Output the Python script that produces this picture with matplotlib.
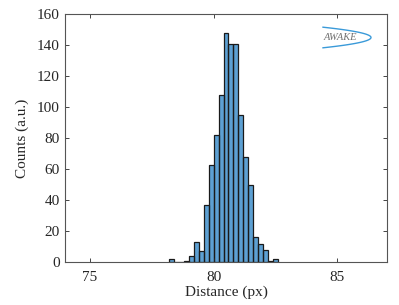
import numpy as np
import matplotlib
matplotlib.use("Agg")
import matplotlib.pyplot as plt

# histogram of measured distances, bin width 0.2 px
bin_start = 78.2
bin_width = 0.2
counts = [2, 0, 0, 1, 4, 13, 7, 37, 63, 82, 108, 148, 141, 141,
          95, 68, 50, 16, 12, 8, 1, 2]
edges = bin_start + bin_width * np.arange(len(counts) + 1)

plt.rcParams["font.family"] = ["Liberation Serif", "DejaVu Serif"]
plt.rcParams["font.size"] = 11

fig = plt.figure(figsize=(3.99, 3.05), dpi=100)
ax = fig.add_axes([0.1637, 0.14, 0.8053, 0.814])

ax.stairs(counts, edges, fill=True, facecolor="#5DA0D3", edgecolor="none")
ax.bar(edges[:-1], counts, width=bin_width, align="edge",
       facecolor="none", edgecolor="#1a1a1a", linewidth=0.9)

ax.set_xlim(74, 87)
ax.set_ylim(0, 160)
ax.set_xticks([75, 80, 85])
ax.set_yticks(np.arange(0, 161, 20))
ax.tick_params(direction="in", length=3, width=0.6, top=True, right=True,
               colors="#262626", labelcolor="#262626")
ax.tick_params(axis="x", pad=6)
ax.tick_params(axis="y", pad=4)
for s in ax.spines.values():
    s.set_color("#555555")
    s.set_linewidth(0.8)

ax.set_xlabel("Distance (px)", color="#262626", labelpad=1)
ax.set_ylabel("Counts (a.u.)", color="#262626", labelpad=6)

# AWAKE logo (top right)
t = np.linspace(-1, 1, 60)
lx = 323 + 48 * (1 - t ** 2)
ly = 37.5 + 10.3 * t
fig_w, fig_h = 399, 305
ax.plot(lx / fig_w, 1 - ly / fig_h, transform=fig.transFigure,
        color="#3a9ad9", linewidth=1.0, clip_on=False)
fig.text(340 / fig_w, 1 - 38 / fig_h, "AWAKE", fontsize=7.5, style="italic",
         color="#707070", ha="center", va="center")

fig.savefig("out.png", dpi=100)
